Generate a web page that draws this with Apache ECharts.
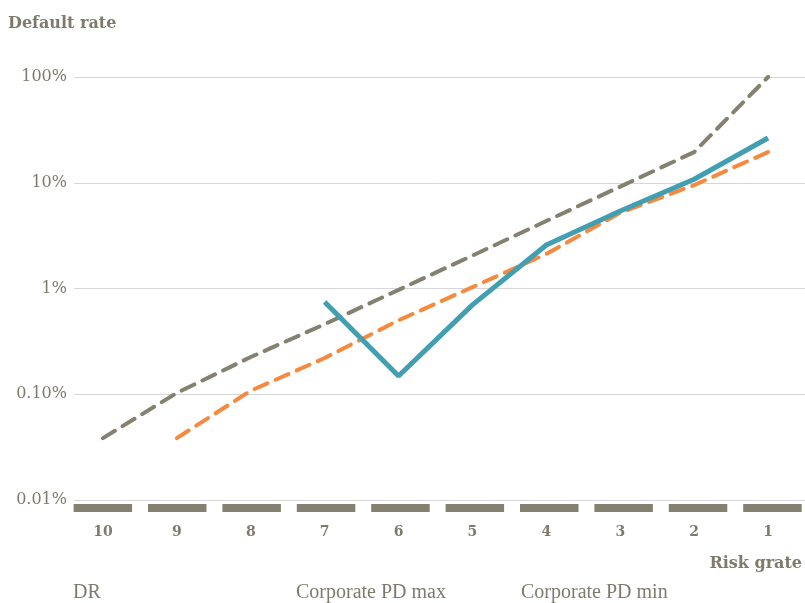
<!DOCTYPE html>
<html>
<head>
<meta charset="utf-8">
<script src="https://cdn.jsdelivr.net/npm/echarts@6/dist/echarts.min.js"></script>
<style>html,body{margin:0;padding:0;background:#fff;}#c{width:805px;height:603px;}</style>
</head>
<body>
<div id="c"></div>
<script>
const categories = ['10','9','8','7','6','5','4','3','2','1'];
const drValues = [null, null, null, 0.745, 0.149, 0.70, 2.58, 5.4, 10.8, 26.5];
const pdMaxValues = [0.0385, 0.103, 0.225, 0.46, 0.97, 2.05, 4.35, 9.2, 19.5, 100];
const pdMinValues = [null, 0.0385, 0.108, 0.22, 0.50, 1.03, 2.12, 5.2, 9.5, 19.5];
const yTickLabels = {'0.01':'0.01%','0.1':'0.10%','1':'1%','10':'10%','100':'100%'};
const legendNames = ['DR','Corporate PD max','Corporate PD min'];

const txt = '#7f7b6c';
const serif = 'DejaVu Serif';
const chart = echarts.init(document.getElementById('c'), null, {renderer:'canvas'});
const yBase = {type:'log', logBase:10, min:0.01, max:100};
const legendLefts = [63, 286, 511];
chart.setOption({
  animation:false,
  backgroundColor:'#fff',
  grid:[
    {left:74, right:0, top:77, bottom:103},
    {left:66, right:-5, top:77, bottom:103}
  ],
  xAxis:[
    {gridIndex:0, type:'category', data:categories, show:false},
    {gridIndex:1, type:'category', data:categories, offset:8,
     axisLine:{show:true, lineStyle:{color:'#858170', width:8, type:[58.5,15.9], dashOffset:66.8, cap:'butt'}},
     axisTick:{show:false},
     axisLabel:{color:txt, fontFamily:serif, fontWeight:'bold', fontSize:14, margin:17}
    }
  ],
  yAxis:[
    Object.assign({gridIndex:0,
      axisLine:{show:false}, axisTick:{show:false},
      splitLine:{show:true, lineStyle:{color:'#d6d6d6', width:1}},
      axisLabel:{color:txt, fontFamily:serif, fontSize:16, margin:7,
        formatter:v=>{const k=String(+v.toPrecision(3)); return yTickLabels[k]||'';}}
    }, yBase),
    Object.assign({gridIndex:1, show:false, splitLine:{show:false}}, yBase)
  ],
  legend: legendNames.map((n,i)=>({
    left:legendLefts[i], top:578, icon:'rect', itemWidth:0, itemHeight:0,
    selectedMode:false,
    textStyle:{color:txt, fontFamily:'Liberation Serif', fontSize:20},
    data:[n]
  })),
  graphic:[
    {type:'text', left:8, top:16, style:{text:'Default rate', fill:txt, font:'bold 16px "DejaVu Serif"'}},
    {type:'text', right:3, top:556, style:{text:'Risk grate', fill:txt, font:'bold 16px "DejaVu Serif"'}}
  ],
  series:[
    {name:'Corporate PD max', type:'line', xAxisIndex:1, yAxisIndex:1, data:pdMaxValues, symbol:'none', connectNulls:false,
     lineStyle:{color:'#858170', width:4, type:[14,9], cap:'round'}, itemStyle:{color:'#858170'}},
    {name:'Corporate PD min', type:'line', xAxisIndex:1, yAxisIndex:1, data:pdMinValues, symbol:'none',
     lineStyle:{color:'#f58a3e', width:4, type:[14,9], cap:'round'}, itemStyle:{color:'#f58a3e'}},
    {name:'DR', type:'line', xAxisIndex:1, yAxisIndex:1, data:drValues, symbol:'none', z:5,
     lineStyle:{color:'#419fb1', width:5}, itemStyle:{color:'#419fb1'}}
  ]
});
</script>
</body>
</html>
